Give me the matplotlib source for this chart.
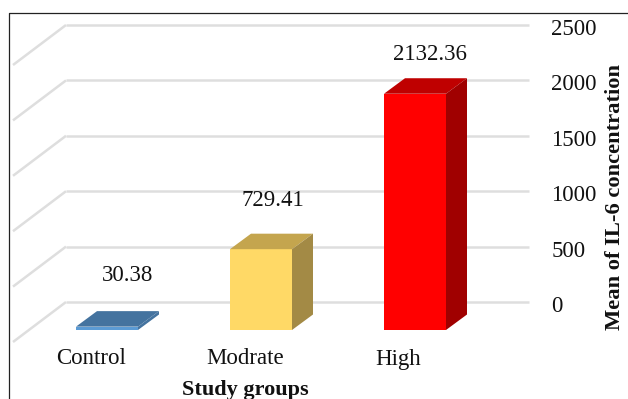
import matplotlib
matplotlib.use("Agg")
from matplotlib import pyplot as plt
from matplotlib.patches import Polygon, Rectangle
from matplotlib.transforms import Affine2D

plt.rcParams['font.family'] = ['Liberation Serif', 'DejaVu Sans']

groups = ["Control", "Modrate", "High"]
means = [30.38, 729.41, 2132.36]
mean_labels = ["30.38", "729.41", "2132.36"]
y_ticks = [0, 500, 1000, 1500, 2000, 2500]

W, H = 628, 399
fig = plt.figure(figsize=(W / 100, H / 100), dpi=100)
ax = fig.add_axes([66 / W, 1 - 302 / H, (529 - 66) / W, 277 / H])

# one category = 154 px, 2500 units = 277 px
px_x = 1 / 154
px_y = 2500 / 277
ax.set_xlim(-41 * px_x, 422 * px_x)
ax.set_ylim(0, 2500)

for s in ax.spines.values():
    s.set_visible(False)
ax.set_xticks([])
ax.yaxis.tick_right()
ax.set_yticks(y_ticks)
ax.tick_params(axis='y', length=0, pad=16, labelsize=16.5, labelcolor='#111111')
for lab in ax.get_yticklabels():
    lab.set_transform(lab.get_transform() + Affine2D().translate(0, -2))

# back wall and left wall lines
grid_c = '#dedede'
x_left = ax.get_xlim()[0]
x_right = ax.get_xlim()[1]
for v in y_ticks:
    ax.plot([x_left, x_right], [v, v], color=grid_c, lw=1.8, zorder=1, clip_on=False,
            solid_capstyle='butt')
    ax.plot([x_left, x_left - 53 * px_x], [v, v - 40 * px_y], color=grid_c, lw=1.8,
            zorder=1, clip_on=False, solid_capstyle='butt')

front = ['#5b9bd5', '#ffd966', '#ff0000']
top = ['#44739f', '#c4a54e', '#bf0000']
side = ['#44739f', '#a38a45', '#a00000']

bar_w = 62 * px_x
dx = 21 * px_x
dy = 15.5 * px_y
base = -28 * px_y

for i, v in enumerate(means):
    x0 = i - bar_w / 2
    x1 = i + bar_w / 2
    y1 = base + v
    ax.add_patch(Rectangle((x0, base), bar_w, v, fc=front[i], ec='none', zorder=3, clip_on=False))
    ax.add_patch(Polygon([(x0, y1), (x1, y1), (x1 + dx, y1 + dy), (x0 + dx, y1 + dy)],
                         fc=top[i], ec='none', zorder=3, clip_on=False))
    ax.add_patch(Polygon([(x1, base), (x1 + dx, base + dy), (x1 + dx, y1 + dy), (x1, y1)],
                         fc=side[i], ec='none', zorder=3, clip_on=False))

# value labels sit by hand above each bar
label_dx = [21, 12, 15]
label_dy = [51, 49, 39]
for i, v in enumerate(means):
    ax.text(i + label_dx[i] * px_x, base + v + label_dy[i] * px_y, mean_labels[i],
            ha='center', va='center', fontsize=16.5, color='#111111', zorder=5)

cat_dx = [-16, -16, -17]
for i, g in enumerate(groups):
    ax.text(i + cat_dx[i] * px_x, -57 * px_y, g, ha='center', va='center', fontsize=16.5,
            color='#111111', clip_on=False)

fig.text(245 / W, 1 - 390 / H, "Study groups", ha='center', va='center',
         fontsize=16, fontweight='bold', color='#111111')
fig.text(615.5 / W, 1 - 330 / H, "Mean of IL-6 concentration", rotation=90, ha='center', va='bottom',
         fontsize=16.2, fontweight='bold', color='#111111')

# outer frame, only its left and top edges fall inside the figure
fig.add_artist(plt.Line2D([8.5 / W, 8.5 / W, 1], [0, 1 - 12.5 / H, 1 - 12.5 / H],
                          color='#222222', lw=0.9))

fig.savefig("out.png", dpi=100)
